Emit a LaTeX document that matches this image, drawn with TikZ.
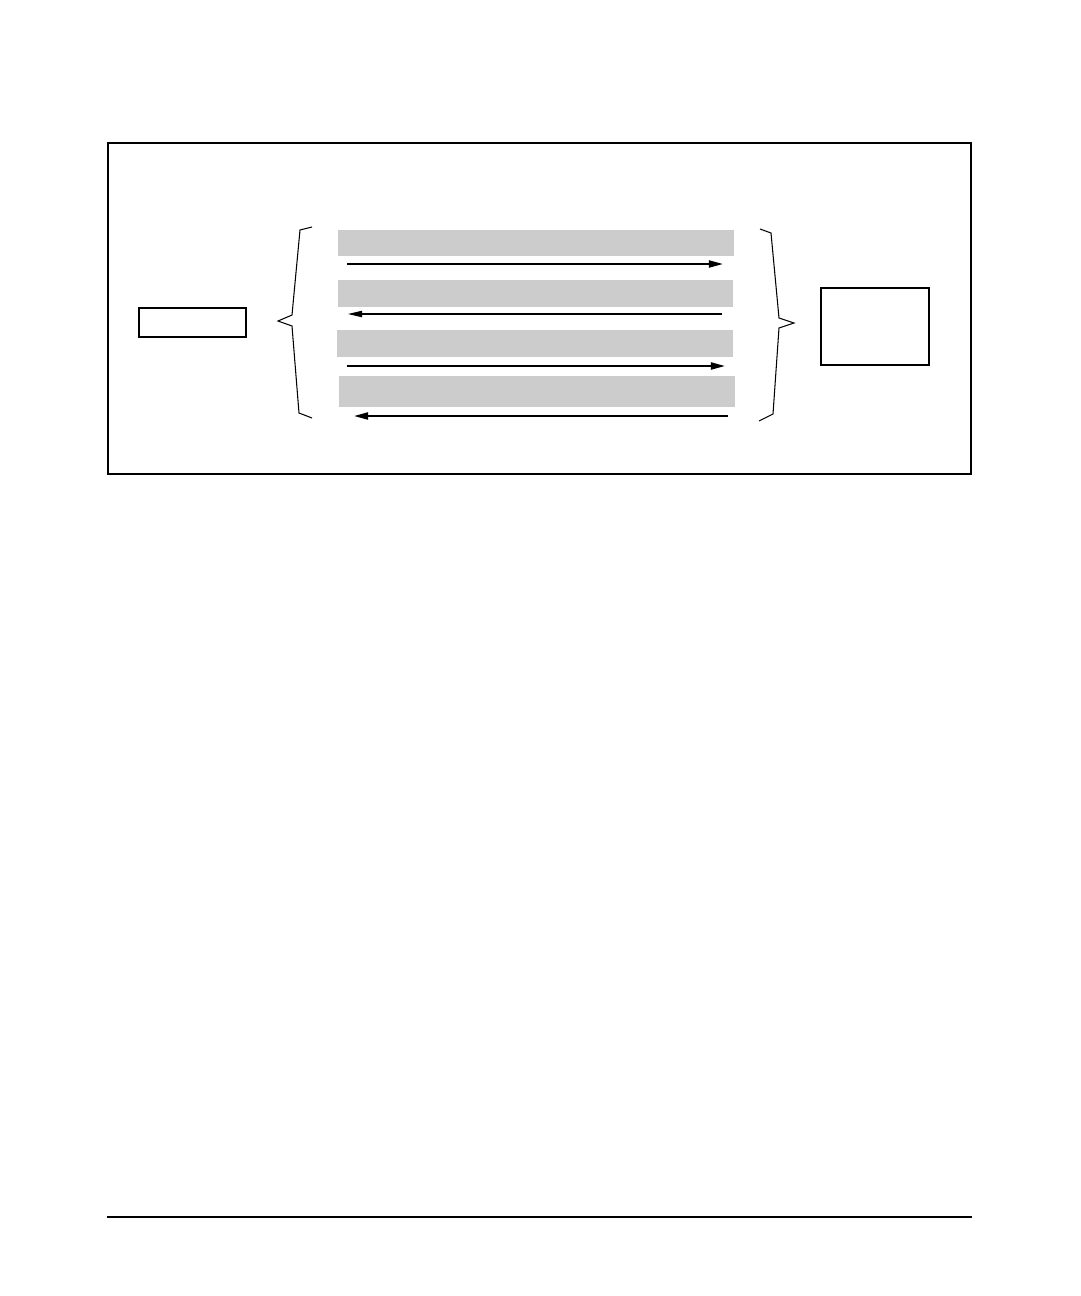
\documentclass[tikz,border=0pt]{standalone}
\usepackage{tikz}
\usetikzlibrary{positioning, arrows.meta, shapes}

\begin{document}
\begin{tikzpicture}[x=0.02cm, y=-0.02cm,
    box/.style={draw, line width=0.6pt, inner sep=0pt, outer sep=0pt},
    lane/.style={fill=black!20, inner sep=0pt, outer sep=0pt, minimum width=7.92cm},
    brace/.style={line width=0.6pt, line join=miter},
    flow/.style={line width=1.1pt, -{Triangle[length=8pt, width=4pt]}},
    flowthin/.style={line width=0.6pt, -{Triangle[length=8pt, width=3.6pt]}}]
    \useasboundingbox (0,0) rectangle (1080,1296);

    % Outer frame
    \coordinate (fa) at (108,143); \coordinate (fb) at (971,474);
    \draw[line width=1.4pt] (fa) rectangle (fb);

    % End boxes
    \node[box, minimum width=2.14cm, minimum height=0.58cm] (left) at (192.5,322.5) {};
    \node[box, minimum width=2.16cm, minimum height=1.54cm] (right) at (875,326.5) {};

    % Grey lanes
    \node[lane, minimum height=0.52cm] (l1) at (536,243) {};
    \node[lane, minimum height=0.54cm] (l2) at (535.5,293.5) {};
    \node[lane, minimum height=0.54cm] (l3) at (535,343.5) {};
    \node[lane, minimum height=0.62cm] (l4) at (537,391.5) {};

    % Arrows under the lanes
    \coordinate (a1s) at (347,264); \coordinate (a1e) at (723,264);
    \coordinate (a2s) at (722,314); \coordinate (a2e) at (348,314);
    \coordinate (a3s) at (347,366); \coordinate (a3e) at (725,366);
    \coordinate (a4s) at (728,416); \coordinate (a4e) at (354,416);
    \draw[flow] (a1s) -- (a1e);
    \draw[flowthin] (a2s) -- (a2e);
    \draw[flow] (a3s) -- (a3e);
    \draw[flow] (a4s) -- (a4e);

    % Left brace
    \coordinate (lb1) at (312,227); \coordinate (lb2) at (300,230);
    \coordinate (lb3) at (292,315); \coordinate (lb4) at (278,321);
    \coordinate (lb5) at (292,326); \coordinate (lb6) at (299,413);
    \coordinate (lb7) at (312,418);
    \draw[brace] (lb1)--(lb2)--(lb3)--(lb4)--(lb5)--(lb6)--(lb7);

    % Right brace
    \coordinate (rb1) at (760,229); \coordinate (rb2) at (771,233);
    \coordinate (rb3) at (779,318); \coordinate (rb4) at (794,323);
    \coordinate (rb5) at (779,328); \coordinate (rb6) at (773,414);
    \coordinate (rb7) at (759,421);
    \draw[brace] (rb1)--(rb2)--(rb3)--(rb4)--(rb5)--(rb6)--(rb7);

    % Footer rule
    \coordinate (ra) at (107,1217); \coordinate (rc) at (972,1217);
    \draw[line width=0.8pt] (ra) -- (rc);
\end{tikzpicture}
\end{document}
